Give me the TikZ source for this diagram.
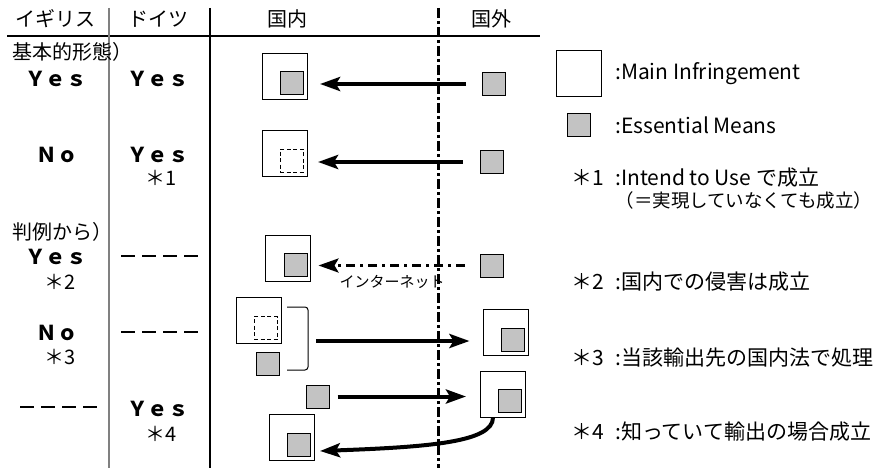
\documentclass[tikz,border=0pt]{standalone}
\usepackage{fontspec}
\setmainfont{Noto Sans CJK JP}
\usetikzlibrary{arrows.meta}
\definecolor{gfill}{RGB}{195,195,195}
\begin{document}
\begin{tikzpicture}[x=1pt,y=-1pt,
  bigbox/.style={draw, line width=1pt, minimum width=45pt, minimum height=46pt, inner sep=0pt},
  gsq/.style={draw, line width=1pt, fill=gfill, minimum size=23pt, inner sep=0pt},
  dsq/.style={draw, line width=0.8pt, dash pattern=on 4pt off 2.5pt, minimum size=23pt, inner sep=0pt},
  jp/.style={font=\fontsize{20}{24}\selectfont, inner sep=0pt},
  lg/.style={font=\fontsize{21}{25}\selectfont, inner sep=0pt, anchor=west},
  yesno/.style={font=\bfseries\fontsize{20.5}{24}\selectfont, inner sep=0pt},
  bigarrow/.style={line width=4pt, -{Stealth[length=20pt,width=14pt,inset=4pt]}},
  coldash/.style={line width=2.2pt, dash pattern=on 14pt off 7pt}
]
\useasboundingbox (0,0) rectangle (891,468);

% frame lines
\draw[line width=2.4pt] (7,36) -- (540,36);
\draw[gray, line width=1.2pt] (109,8) -- (109,468);
\draw[line width=2.6pt] (210,8) -- (210,468);
\draw[line width=3pt, dash pattern=on 10pt off 3pt on 3pt off 3pt] (438,8) -- (438,468);

% headers
\node[jp] (h1) at (56,19) {イギリス};
\node[jp] (h2) at (158,19) {ドイツ};
\node[jp] (h3) at (287,19) {国内};
\node[jp] (h4) at (491,19) {国外};

% left columns
\node[jp, anchor=west] (t1) at (12,52) {基本的形態）};
\node[yesno] (y1a) at (56,79) {Ｙｅｓ};
\node[yesno] (y1b) at (158,79) {Ｙｅｓ};
\node[yesno] (n2a) at (57,155) {Ｎｏ};
\node[yesno] (y2b) at (158,155) {Ｙｅｓ};
\node[jp] (s1) at (161,178) {＊1};
\node[jp, anchor=west] (t2) at (12,232) {判例から）};
\node[yesno] (y3a) at (56,257) {Ｙｅｓ};
\node[jp] (s2) at (60,282) {＊2};
\node[yesno] (n4a) at (57,333) {Ｎｏ};
\node[jp] (s3) at (60,357) {＊3};
\node[yesno] (y5b) at (158,409) {Ｙｅｓ};
\node[jp] (s4) at (161,434) {＊4};
\draw[coldash] (121,256) -- (200,256);
\draw[coldash] (121,332) -- (200,332);
\draw[coldash] (20,407) -- (98,407);

% row 1
\node[bigbox] (b1) at (285,76.5) {};
\node[gsq] (g1) at (292,83.5) {};
\node[gsq] (r1) at (494,84) {};
\draw[bigarrow, shorten <=16pt, shorten >=12pt] (r1.west) -- (r1.west -| b1.east);

% row 2
\node[bigbox] (b2) at (285,153.5) {};
\node[dsq] (d2) at (291.5,160.5) {};
\node[gsq] (r2) at (491.5,162) {};
\draw[bigarrow, shorten <=17pt, shorten >=10pt] (r2.west) -- (r2.west -| b2.east);

% row 3
\node[bigbox] (b3) at (287.5,258) {};
\node[gsq] (g3) at (295.5,265) {};
\node[gsq] (r3) at (492,265.5) {};
\draw[line width=3pt, dash pattern=on 9pt off 5pt on 3pt off 5pt, -{Stealth[length=20pt,width=14pt,inset=4pt]}, shorten <=15pt, shorten >=8pt] (r3.west) -- (r3.west -| b3.east);
\node[font=\fontsize{15}{18}\selectfont, inner sep=0pt] (inet) at (392,282) {インターネット};

% row 4
\node[bigbox] (b4) at (258.5,320.5) {};
\node[dsq] (d4) at (265.5,328) {};
\node[gsq] (g4) at (267.5,363.5) {};
\draw[line width=1pt, rounded corners=3pt] (287,307) -- (308,307) -- (308,370) -- (287,370);
\coordinate (brk) at (308,341);
\node[bigbox] (b4r) at (505.5,332.5) {};
\node[gsq] (g4r) at (512.5,340) {};
\draw[bigarrow, shorten <=8pt, shorten >=13pt] (brk) -- (brk -| b4r.west);

% row 5
\node[gsq] (g5) at (317.5,396.5) {};
\node[bigbox] (b5r) at (503,394) {};
\node[gsq] (g5r) at (510,400.5) {};
\draw[bigarrow, shorten <=8pt, shorten >=14pt] (g5.east) -- (g5.east -| b5r.west);
\node[bigbox] (b5l) at (291.5,437.5) {};
\node[gsq] (g5l) at (299,444.5) {};
\coordinate (c5end) at (320,451);
\draw[bigarrow] ([xshift=-10pt]b5r.south) .. controls (493,442) and (430,447) .. (c5end);

% legend
\node[bigbox] (lb) at (578.5,74) {};
\node[gsq] (lgsq) at (578.5,125.5) {};
\node[lg] (l1) at (615,74) {:Main Infringement};
\node[lg] (l2) at (615,125) {:Essential Means};
\node[lg] (k1) at (571,178) {＊1};
\node[lg] (l3) at (615,178) {:Intend to Use で成立};
\node[font=\fontsize{18.5}{22}\selectfont, inner sep=0pt] (l3b) at (744,200) {（＝実現していなくても成立）};
\node[lg] (k2) at (571,282) {＊2};
\node[lg] (l4) at (615,282) {:国内での侵害は成立};
\node[lg] (k3) at (571,358) {＊3};
\node[lg] (l5) at (615,358) {:当該輸出先の国内法で処理};
\node[lg] (k4) at (571,432) {＊4};
\node[lg] (l6) at (615,432) {:知っていて輸出の場合成立};
\end{tikzpicture}
\end{document}
